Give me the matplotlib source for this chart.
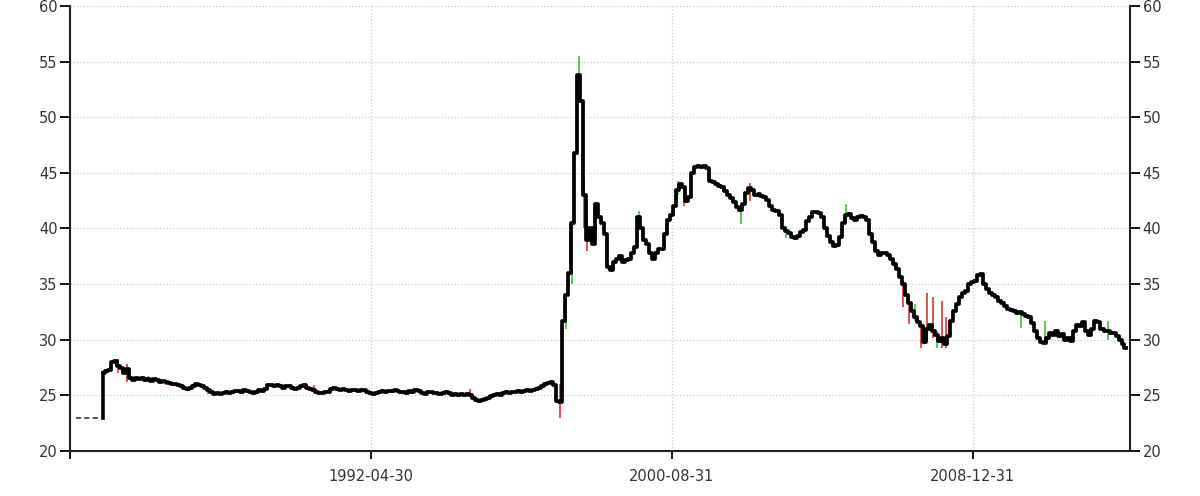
import numpy as np
import pandas as pd
import matplotlib
matplotlib.use("Agg")
import matplotlib.pyplot as plt

# monthly closes, first value is 1984-12
start = "1984-12-01"
close = [
    27.0,
    27.2, 27.3, 28.0, 28.1, 27.6, 27.5, 27.0, 27.4, 26.6, 26.4, 26.6, 26.5,   # 1985
    26.6, 26.4, 26.5, 26.3, 26.5, 26.4, 26.2, 26.3, 26.2, 26.1, 26.0, 26.0,   # 1986
    25.9, 25.8, 25.7, 25.6, 25.7, 25.8, 26.0, 25.9, 25.8, 25.7, 25.5, 25.3,   # 1987
    25.1, 25.2, 25.1, 25.2, 25.3, 25.2, 25.3, 25.4, 25.4, 25.3, 25.5, 25.4,   # 1988
    25.3, 25.2, 25.3, 25.5, 25.4, 25.6, 25.9, 25.9, 25.8, 25.9, 25.8, 25.7,   # 1989
    25.8, 25.8, 25.7, 25.6, 25.7, 25.8, 25.9, 25.7, 25.6, 25.5, 25.3, 25.2,   # 1990
    25.2, 25.3, 25.3, 25.6, 25.7, 25.6, 25.5, 25.6, 25.5, 25.4, 25.5, 25.5,   # 1991
    25.4, 25.5, 25.5, 25.3, 25.2, 25.1, 25.2, 25.3, 25.4, 25.3, 25.4, 25.4,   # 1992
    25.5, 25.4, 25.3, 25.3, 25.2, 25.4, 25.3, 25.5, 25.4, 25.2, 25.1, 25.3,   # 1993
    25.3, 25.2, 25.2, 25.1, 25.2, 25.3, 25.2, 25.0, 25.1, 25.0, 25.1, 25.0,   # 1994
    25.1, 25.0, 24.8, 24.6, 24.5, 24.6, 24.7, 24.8, 24.9, 25.0, 25.1, 25.0,   # 1995
    25.2, 25.3, 25.2, 25.3, 25.3, 25.4, 25.3, 25.4, 25.5, 25.4, 25.5, 25.6,   # 1996
    25.7, 25.8, 26.0, 26.1, 26.2, 25.9, 24.5, 24.4, 31.7, 34.0, 36.0, 40.5,   # 1997
    46.8, 53.8, 51.5, 43.0, 39.0, 40.0, 38.6, 42.2, 41.0, 40.5, 39.5, 36.5,   # 1998
    36.3, 37.0, 37.3, 37.5, 37.0, 37.2, 37.3, 37.8, 38.3, 41.0, 40.0, 39.0,   # 1999
    38.6, 37.8, 37.3, 37.8, 38.2, 38.2, 39.5, 40.8, 41.2, 42.0, 43.5, 44.0,   # 2000
    43.7, 42.5, 42.8, 45.0, 45.5, 45.6, 45.5, 45.6, 45.4, 44.3, 44.2, 44.0,   # 2001
    43.8, 43.7, 43.4, 43.0, 42.7, 42.4, 41.9, 41.7, 42.2, 43.2, 43.6, 43.5,   # 2002
    43.0, 43.1, 42.9, 42.8, 42.6, 42.0, 41.7, 41.6, 41.2, 40.0, 39.8, 39.6,   # 2003
    39.2, 39.1, 39.3, 39.7, 39.9, 40.7, 41.0, 41.5, 41.5, 41.4, 41.0, 40.0,   # 2004
    39.3, 38.8, 38.4, 38.5, 39.2, 40.5, 41.2, 41.3, 40.9, 40.8, 41.0, 41.1,   # 2005
    41.0, 40.8, 39.5, 38.8, 38.0, 37.6, 37.8, 37.8, 37.6, 37.3, 36.8, 36.4,   # 2006
    35.6, 35.0, 34.0, 33.3, 32.6, 32.0, 31.6, 31.2, 29.8, 31.0, 31.3, 30.8,   # 2007
    30.4, 29.9, 30.2, 29.6, 30.3, 31.7, 32.6, 33.2, 33.8, 34.2, 34.4, 35.0,   # 2008
    35.2, 35.3, 35.8, 35.9, 35.0, 34.6, 34.2, 34.0, 33.8, 33.5, 33.3, 33.0,   # 2009
    32.8, 32.7, 32.6, 32.4, 32.5, 32.3, 32.1, 32.0, 31.5, 30.8, 30.2, 29.8,   # 2010
    29.7, 30.2, 30.6, 30.4, 30.8, 30.3, 30.5, 30.0, 30.2, 29.9, 30.8, 31.3,   # 2011
    31.2, 31.6, 30.8, 30.4, 31.0, 31.7, 31.6, 31.0, 30.8, 30.8, 30.6, 30.6,   # 2012
    30.3, 30.0, 29.6, 29.3,                                                   # 2013
]

# flat dashed part before trading
dash_dates = ["1984-03-01", "1984-12-01"]
dash_value = 23.0

# high/low wicks (up = green, down = red)
wick_dates = ["1985-05-01", "1985-08-01", "1986-03-01", "1986-09-01", "1987-11-01",
              "1989-02-01", "1990-10-01", "1992-02-01", "1993-06-01", "1994-09-01",
              "1995-02-01", "1996-06-01", "1997-08-01", "1997-10-01",
              "1997-12-01", "1998-02-01", "1998-04-01", "1998-05-01", "1998-08-01",
              "1999-10-01", "2000-11-01", "2001-01-01", "2002-08-01", "2002-11-01",
              "2003-11-01", "2005-07-01", "2007-02-01", "2007-04-01", "2007-06-01",
              "2007-08-01", "2007-10-01", "2007-12-01", "2008-01-01", "2008-03-01",
              "2008-04-01", "2010-05-01", "2011-01-01", "2012-10-01"]
wick_low = [27.0, 26.2, 26.2, 25.9, 25.1, 25.0, 25.3, 25.2, 25.1, 24.9,
            24.9, 25.2, 23.0, 31.0, 35.0, 53.0, 40.0, 38.0, 40.0,
            40.0, 43.0, 42.0, 40.4, 42.5, 39.1, 40.5, 32.9, 31.4, 31.7,
            29.3, 30.0, 30.2, 29.3, 29.3, 29.3, 31.1, 30.0, 30.0]
wick_high = [28.3, 27.8, 26.7, 26.4, 25.6, 25.5, 25.9, 25.7, 25.6, 25.3,
             25.6, 25.6, 26.0, 34.0, 40.5, 55.5, 44.5, 41.0, 41.5,
             41.6, 44.3, 42.6, 41.8, 44.1, 40.0, 42.2, 35.3, 33.8, 33.2,
             31.5, 34.2, 33.8, 30.8, 33.5, 32.0, 32.6, 31.7, 31.7]
wick_up = [False, False, True, False, False, True, False, True, True, False,
           False, True, False, True, True, True, False, False, True,
           True, True, False, True, False, True, True, False, False, True,
           False, False, False, True, False, False, True, True, True]

xticks = ["1983-12-31", "1992-04-30", "2000-08-31", "2008-12-31"]
xlabels = ["", "1992-04-30", "2000-08-31", "2008-12-31"]
yticks = [20, 25, 30, 35, 40, 45, 50, 55, 60]


def main():
    dates = pd.date_range(start, periods=len(close), freq="MS")

    fig = plt.figure(figsize=(12.0, 4.96), dpi=100)
    ax = fig.add_axes([0.0583, 0.0907, 0.8834, 0.8973])

    ax.plot(pd.to_datetime(dash_dates), [dash_value, dash_value], color="#333333",
            lw=1.2, ls=(0, (3, 2)))
    ax.plot([pd.to_datetime(dash_dates[1])] * 2, [dash_value, close[0]], color="black", lw=2.6)

    for d, lo, hi, up in zip(wick_dates, wick_low, wick_high, wick_up):
        ax.vlines(pd.to_datetime(d), lo, hi, color="#3fbf3f" if up else "#e03030", lw=1.2, zorder=2)

    ax.plot(dates, close, color="black", lw=2.7, drawstyle="steps-mid", zorder=3)

    ax.set_ylim(20, 60)
    ax.set_xlim(pd.to_datetime("1983-12-31"), pd.to_datetime("2013-05-12"))
    ax.set_yticks(yticks)
    ax.set_xticks(pd.to_datetime(xticks))
    ax.set_xticklabels(xlabels)

    ax.grid(True, color="#cccccc", ls=":", lw=0.9)
    ax.set_axisbelow(True)

    for s in ["left", "bottom", "right"]:
        ax.spines[s].set_linewidth(1.5)
        ax.spines[s].set_color("#222222")
    ax.spines["top"].set_visible(False)

    ax.tick_params(axis="y", which="both", left=True, right=True, labelleft=True,
                   labelright=True, direction="out", length=7, width=1.3,
                   labelsize=10.5, labelcolor="#333333", pad=2)
    ax.tick_params(axis="x", direction="out", length=6, width=1.3,
                   labelsize=10.5, labelcolor="#333333", pad=7)

    fig.savefig("out.png", dpi=100)


if __name__ == "__main__":
    main()
